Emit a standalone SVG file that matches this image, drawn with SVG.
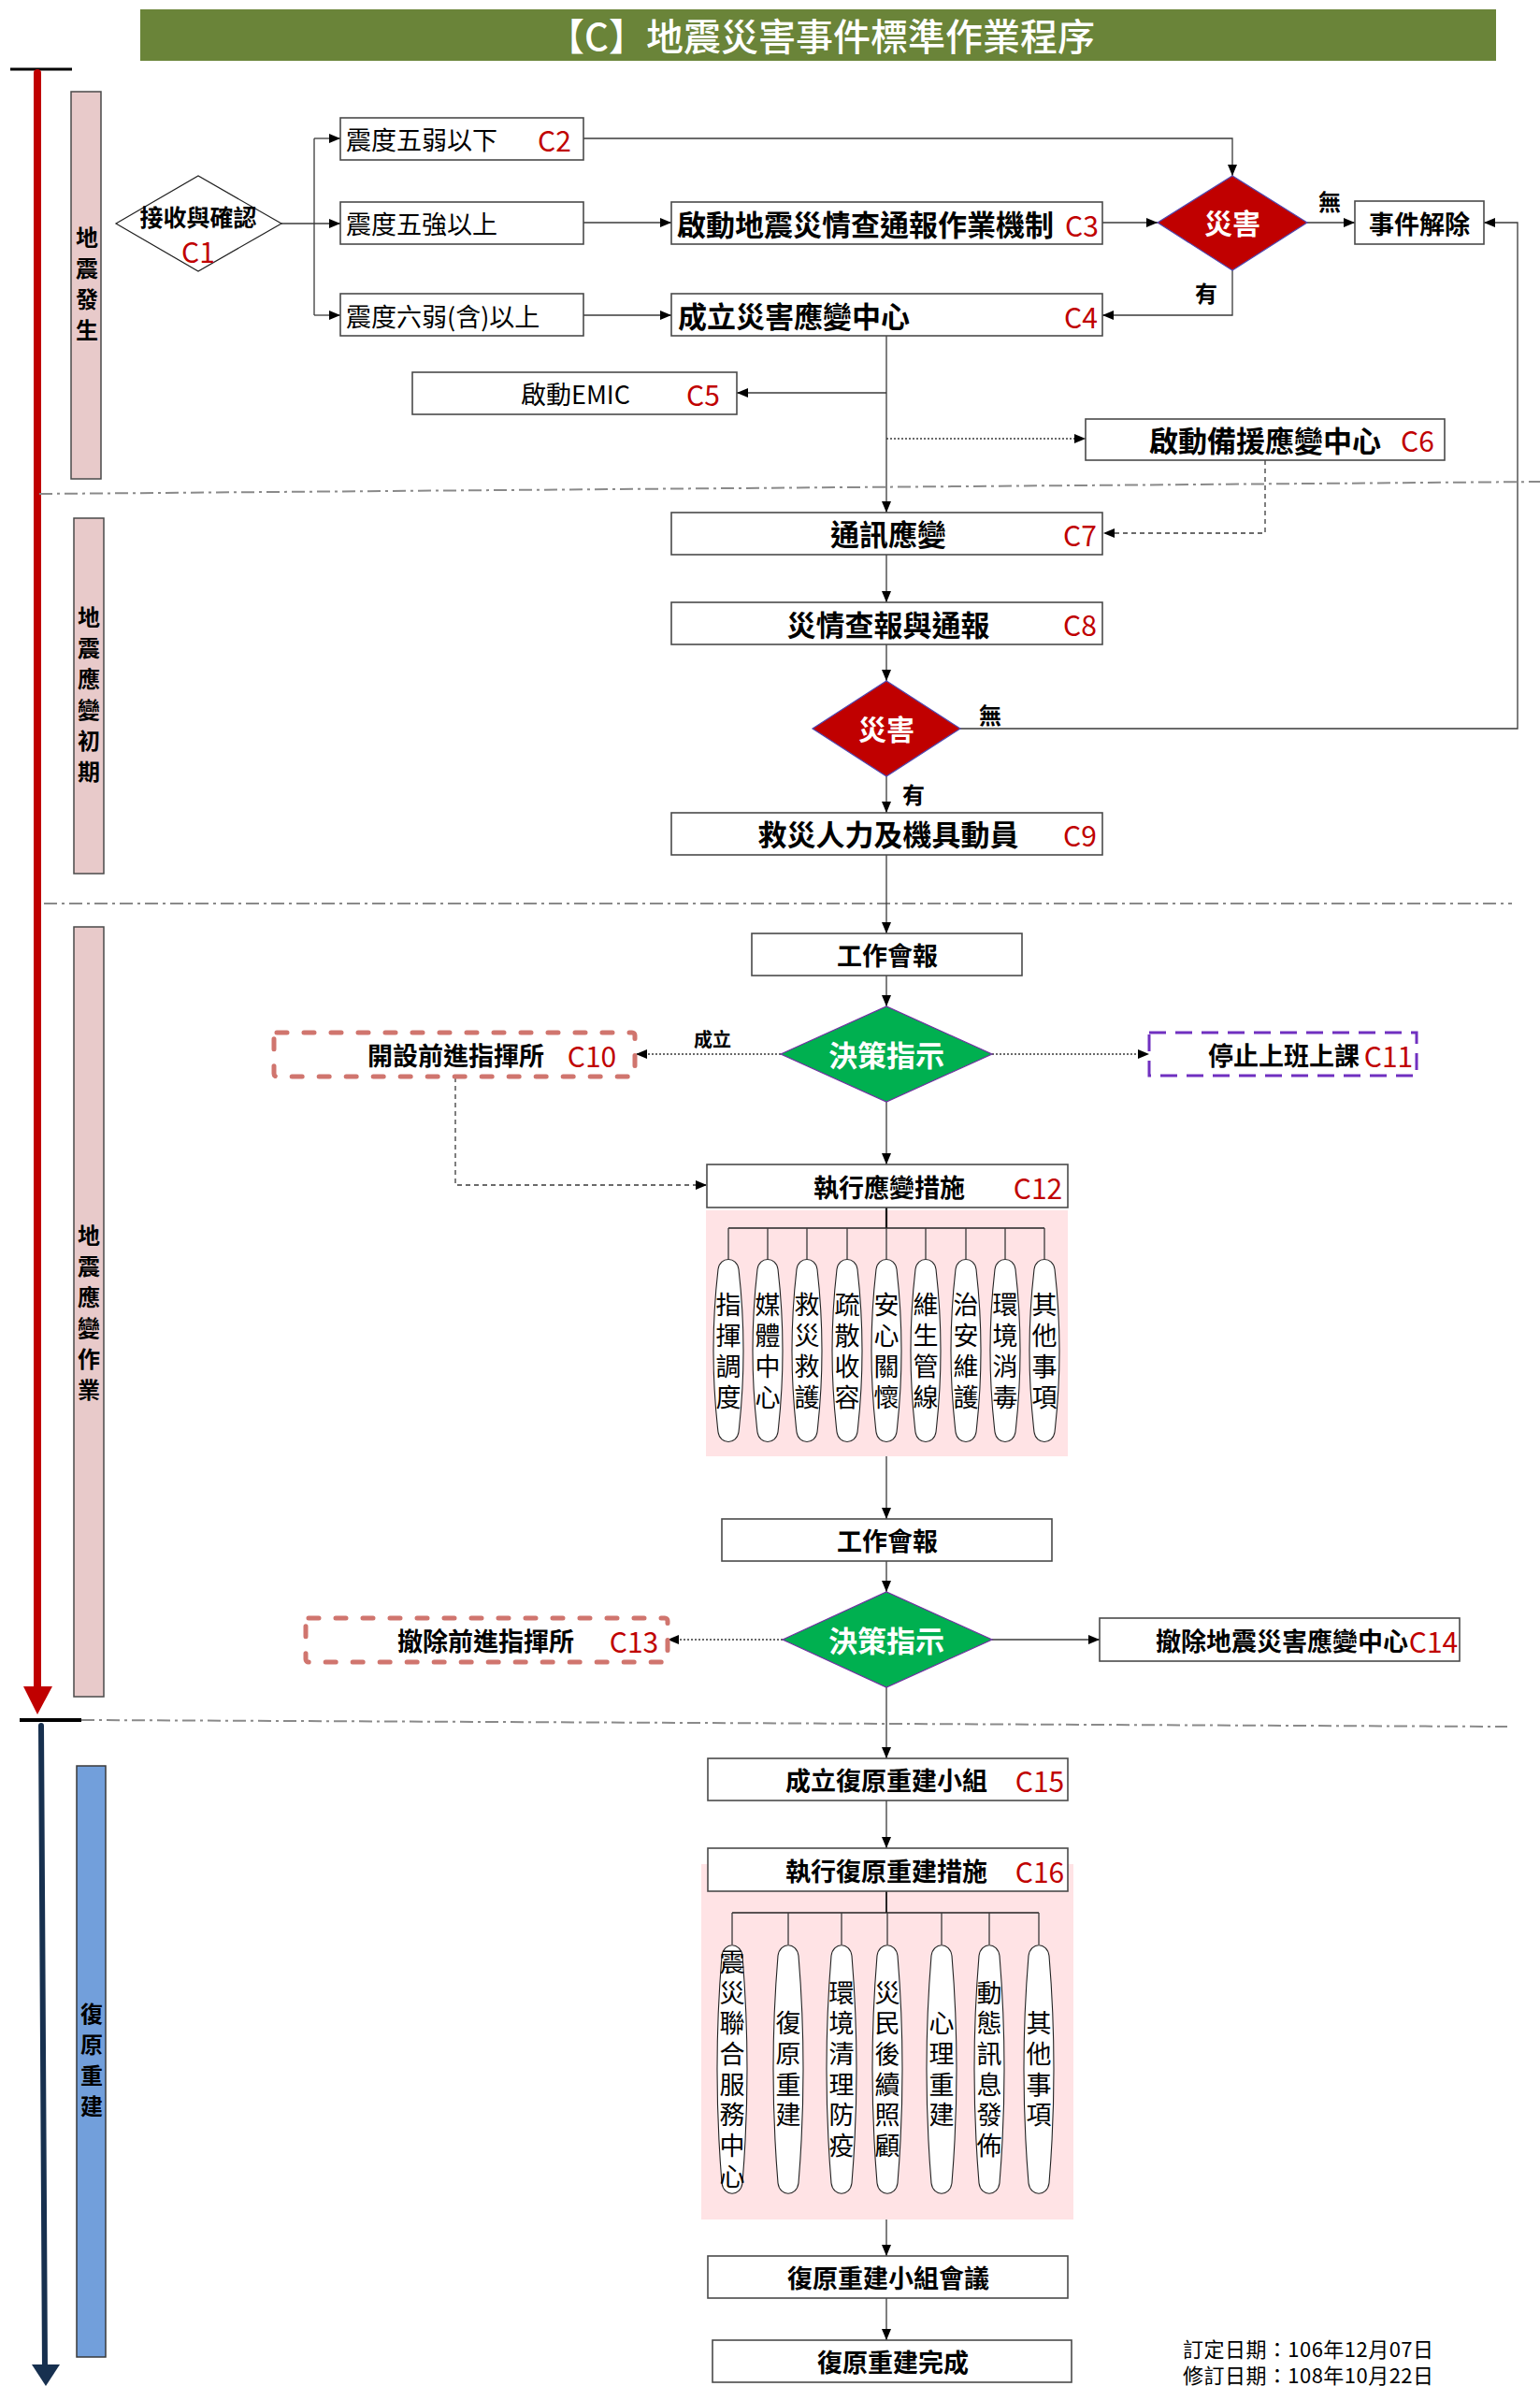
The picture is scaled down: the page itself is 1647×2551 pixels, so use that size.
<svg xmlns="http://www.w3.org/2000/svg" width="1647" height="2551" viewBox="0 0 1647 2551">
<defs>
<style>
text{font-family:"Noto Sans CJK TC","Noto Sans CJK SC",sans-serif;dominant-baseline:central;fill:#000}
.b{font-weight:bold}
.m{text-anchor:middle}
.s27{font-size:27px}
.s31{font-size:31px}
.red{fill:#C00000;font-size:30px}
.wh{fill:#fff}
.v{writing-mode:vertical-rl;text-orientation:upright;text-anchor:middle}
.v1{font-size:27px;letter-spacing:6px}
.v2{font-size:27px;letter-spacing:5.7px}
.vl{font-size:24px;letter-spacing:9px;font-weight:bold}
.box{fill:#fff;stroke:#4a4a4a;stroke-width:1.6}
.lane{fill:#E8CACA;stroke:#4a4a4a;stroke-width:1.5}
.cap{fill:#fff;stroke:#222;stroke-width:1.1}
.conn{fill:none;stroke:#3a3a3a;stroke-width:1.3}
.dot{stroke-dasharray:2 2}
.dsh{stroke-dasharray:5 4}
.sep{fill:none;stroke:#8a8a8a;stroke-width:2;stroke-dasharray:14 5 3 5}
.salm{fill:#fff;stroke:#D0756E;stroke-width:5;stroke-dasharray:11 18;stroke-linecap:round}
.purp{fill:#fff;stroke:#7030C0;stroke-width:3;stroke-dasharray:18 10}
</style>
<marker id="ar" markerWidth="12" markerHeight="10" refX="12" refY="5" orient="auto" markerUnits="userSpaceOnUse">
<path d="M0,0 L12,5 L0,10 z" fill="#000"/>
</marker>
</defs>

<!-- title -->
<g id="title">
<rect x="150" y="10" width="1450" height="55" fill="#6A8439"/>
<text x="878" y="37" class="m wh" font-size="40" font-weight="500">【C】地震災害事件標準作業程序</text>
</g>

<!-- timeline -->
<g id="timeline">
<line x1="11" y1="74" x2="77" y2="74" stroke="#000" stroke-width="3"/>
<line x1="40" y1="78" x2="40" y2="1805" stroke="#C00000" stroke-width="8" stroke-linecap="round"/>
<path d="M25,1803 L56,1803 L40,1833 z" fill="#C00000"/>
<line x1="21" y1="1839" x2="87" y2="1839" stroke="#000" stroke-width="4"/>
<line x1="44" y1="1845" x2="48" y2="2532" stroke="#17304F" stroke-width="6" stroke-linecap="round"/>
<path d="M34,2528 L64,2528 L49,2551 z" fill="#17304F"/>
</g>

<!-- lanes -->
<g id="lane1">
<rect x="76" y="98" width="32" height="414" class="lane"/>
<text x="93" y="308" class="v vl">地震發生</text>
</g>
<g id="lane2">
<rect x="79" y="554" width="32" height="380" class="lane"/>
<text x="95" y="747" class="v vl">地震應變初期</text>
</g>
<g id="lane3">
<rect x="79" y="991" width="32" height="823" class="lane"/>
<text x="95" y="1408" class="v vl">地震應變作業</text>
</g>
<g id="lane4">
<rect x="82" y="1888" width="31" height="632" fill="#729FDB" stroke="#3a3a3a" stroke-width="1.5"/>
<text x="98" y="2207" class="v vl">復原重建</text>
</g>

<!-- separators -->
<g id="separators">
<line x1="42" y1="528" x2="1647" y2="515" class="sep"/>
<line x1="47" y1="966" x2="1617" y2="966" class="sep"/>
<line x1="87" y1="1839" x2="1612" y2="1846" class="sep"/>
</g>

<!-- pink backgrounds -->
<rect x="755" y="1294" width="387" height="263" fill="#FFE3E5"/>
<rect x="750" y="1993" width="398" height="380" fill="#FFE3E5"/>

<!-- connectors -->
<g id="connectors">
<line x1="301" y1="239" x2="364" y2="239" class="conn" marker-end="url(#ar)"/>
<line x1="336" y1="148" x2="336" y2="337" class="conn"/>
<line x1="336" y1="148" x2="364" y2="148" class="conn" marker-end="url(#ar)"/>
<line x1="336" y1="337" x2="364" y2="337" class="conn" marker-end="url(#ar)"/>
<line x1="624" y1="238" x2="718" y2="238" class="conn" marker-end="url(#ar)"/>
<line x1="624" y1="337" x2="718" y2="337" class="conn" marker-end="url(#ar)"/>
<line x1="1179" y1="238" x2="1238" y2="238" class="conn" marker-end="url(#ar)"/>
<polyline points="624,148 1318,148 1318,188" class="conn" marker-end="url(#ar)"/>
<line x1="1398" y1="238" x2="1449" y2="238" class="conn" marker-end="url(#ar)"/>
<polyline points="1318,289 1318,337 1179,337" class="conn" marker-end="url(#ar)"/>
<polyline points="1027,779 1623,779 1623,238 1587,238" class="conn" marker-end="url(#ar)"/>
<line x1="948" y1="359" x2="948" y2="548" class="conn" marker-end="url(#ar)"/>
<line x1="948" y1="420" x2="788" y2="420" class="conn" marker-end="url(#ar)"/>
<line x1="948" y1="469" x2="1161" y2="469" class="conn dot" marker-end="url(#ar)"/>
<polyline points="1353,492 1353,570 1180,570" class="conn dsh" marker-end="url(#ar)"/>
<line x1="948" y1="593" x2="948" y2="644" class="conn" marker-end="url(#ar)"/>
<line x1="948" y1="689" x2="948" y2="728" class="conn" marker-end="url(#ar)"/>
<line x1="948" y1="830" x2="948" y2="869" class="conn" marker-end="url(#ar)"/>
<line x1="948" y1="914" x2="948" y2="998" class="conn" marker-end="url(#ar)"/>
<line x1="948" y1="1043" x2="948" y2="1076" class="conn" marker-end="url(#ar)"/>
<line x1="835" y1="1127" x2="680" y2="1127" class="conn dot" marker-end="url(#ar)"/>
<line x1="1061" y1="1127" x2="1229" y2="1127" class="conn dot" marker-end="url(#ar)"/>
<line x1="948" y1="1178" x2="948" y2="1245" class="conn" marker-end="url(#ar)"/>
<polyline points="487,1152 487,1267 756,1267" class="conn dsh" marker-end="url(#ar)"/>
<line x1="948" y1="1291" x2="948" y2="1313" stroke="#111" stroke-width="2.2"/>
<line x1="779" y1="1313" x2="1117" y2="1313" stroke="#222" stroke-width="1.6"/>
<path d="M779,1313V1346M821,1313V1346M863,1313V1346M906,1313V1346M948,1313V1346M990,1313V1346M1033,1313V1346M1075,1313V1346M1117,1313V1346" class="conn"/>
<line x1="948" y1="1557" x2="948" y2="1624" class="conn" marker-end="url(#ar)"/>
<line x1="948" y1="1669" x2="948" y2="1702" class="conn" marker-end="url(#ar)"/>
<line x1="837" y1="1753" x2="714" y2="1753" class="conn dot" stroke-width="2" marker-end="url(#ar)"/>
<line x1="1061" y1="1753" x2="1176" y2="1753" class="conn" marker-end="url(#ar)"/>
<line x1="948" y1="1804" x2="948" y2="1880" class="conn" marker-end="url(#ar)"/>
<line x1="948" y1="1925" x2="948" y2="1976" class="conn" marker-end="url(#ar)"/>
<line x1="948" y1="2022" x2="948" y2="2045" stroke="#111" stroke-width="1.8"/>
<line x1="783" y1="2045" x2="1111" y2="2045" stroke="#222" stroke-width="1.6"/>
<path d="M783,2045V2079M843,2045V2079M900,2045V2079M949,2045V2079M1007,2045V2079M1058,2045V2079M1111,2045V2079" class="conn"/>
<line x1="948" y1="2373" x2="948" y2="2412" class="conn" marker-end="url(#ar)"/>
<line x1="948" y1="2457" x2="948" y2="2502" class="conn" marker-end="url(#ar)"/>
</g>

<!-- nodes -->
<g id="C1">
<polygon points="124,239 212,188 301,239 212,290" fill="#fff" stroke="#222" stroke-width="1.2"/>
<text x="212" y="231" class="m b" font-size="25">接收與確認</text>
<text x="212" y="268" class="m red" font-size="25">C1</text>
</g>
<g id="C2">
<rect x="364" y="126" width="260" height="45" class="box"/>
<text x="370" y="148" class="s27">震度五弱以下</text>
<text x="593" y="149" class="m red">C2</text>
</g>
<g id="n5strong">
<rect x="364" y="216" width="260" height="45" class="box"/>
<text x="370" y="238" class="s27">震度五強以上</text>
</g>
<g id="n6weak">
<rect x="364" y="314" width="260" height="45" class="box"/>
<text x="370" y="337" class="s27">震度六弱(含)以上</text>
</g>
<g id="C3">
<rect x="718" y="216" width="461" height="45" class="box"/>
<text x="724" y="238" class="b s31">啟動地震災情查通報作業機制</text>
<text x="1157" y="240" class="m red">C3</text>
</g>
<g id="C4">
<rect x="718" y="314" width="461" height="45" class="box"/>
<text x="725" y="336" class="b s31">成立災害應變中心</text>
<text x="1156" y="338" class="m red">C4</text>
</g>
<g id="disaster1">
<polygon points="1238,238 1318,188 1398,238 1318,289" fill="#C00000" stroke="#5048B0" stroke-width="1.2"/>
<text x="1318" y="237" class="m wh b" font-size="30">災害</text>
<text x="1422" y="214" class="m b" font-size="24">無</text>
<text x="1290" y="312" class="m b" font-size="24">有</text>
</g>
<g id="release">
<rect x="1449" y="215" width="138" height="46" class="box"/>
<text x="1518" y="238" class="m b s27">事件解除</text>
</g>
<g id="C5">
<rect x="441" y="398" width="347" height="45" class="box"/>
<text x="557" y="420" class="s27">啟動EMIC</text>
<text x="752" y="421" class="m red">C5</text>
</g>
<g id="C6">
<rect x="1161" y="448" width="384" height="44" class="box"/>
<text x="1229" y="469" class="b s31">啟動備援應變中心</text>
<text x="1516" y="470" class="m red">C6</text>
</g>
<g id="C7">
<rect x="718" y="548" width="461" height="45" class="box"/>
<text x="950" y="569" class="m b s31">通訊應變</text>
<text x="1155" y="571" class="m red">C7</text>
</g>
<g id="C8">
<rect x="718" y="644" width="461" height="45" class="box"/>
<text x="950" y="666" class="m b s31">災情查報與通報</text>
<text x="1155" y="667" class="m red">C8</text>
</g>
<g id="disaster2">
<polygon points="869,779 948,728 1027,779 948,830" fill="#C00000" stroke="#5048B0" stroke-width="1.2"/>
<text x="948" y="778" class="m wh b" font-size="30">災害</text>
<text x="1059" y="763" class="m b" font-size="24">無</text>
<text x="977" y="848" class="m b" font-size="24">有</text>
</g>
<g id="C9">
<rect x="718" y="869" width="461" height="45" class="box"/>
<text x="950" y="890" class="m b s31">救災人力及機具動員</text>
<text x="1155" y="892" class="m red">C9</text>
</g>
<g id="meeting1">
<rect x="804" y="998" width="289" height="45" class="box"/>
<text x="949" y="1020" class="m b s27">工作會報</text>
</g>
<g id="decision1">
<polygon points="835,1127 948,1076 1061,1127 948,1178" fill="#00B050" stroke="#7030A0" stroke-width="1.2"/>
<text x="948" y="1126" class="m wh b" font-size="31">決策指示</text>
<text x="762" y="1110" class="m b" font-size="20">成立</text>
</g>
<g id="C10">
<rect x="293" y="1104" width="386" height="47" rx="3" class="salm"/>
<text x="393" y="1127" class="b s27">開設前進指揮所</text>
<text x="633" y="1128" class="m red">C10</text>
</g>
<g id="C11">
<rect x="1229" y="1104" width="286" height="46" class="purp"/>
<text x="1292" y="1127" class="b s27">停止上班上課</text>
<text x="1485" y="1128" class="m red">C11</text>
</g>
<g id="C12">
<rect x="756" y="1245" width="386" height="46" class="box"/>
<text x="870" y="1268" class="b s27">執行應變措施</text>
<text x="1110" y="1269" class="m red">C12</text>
</g>
<g id="measures1">
<path class="cap" d="M768,1357 C770,1343 788,1343 790,1357 Q800,1444 790,1531 C788,1545 770,1545 768,1531 Q758,1444 768,1357 Z"/>
<path class="cap" d="M810,1357 C812,1343 830,1343 832,1357 Q842,1444 832,1531 C830,1545 812,1545 810,1531 Q800,1444 810,1357 Z"/>
<path class="cap" d="M852,1357 C854,1343 872,1343 874,1357 Q884,1444 874,1531 C872,1545 854,1545 852,1531 Q842,1444 852,1357 Z"/>
<path class="cap" d="M895,1357 C897,1343 915,1343 917,1357 Q927,1444 917,1531 C915,1545 897,1545 895,1531 Q885,1444 895,1357 Z"/>
<path class="cap" d="M937,1357 C939,1343 957,1343 959,1357 Q969,1444 959,1531 C957,1545 939,1545 937,1531 Q927,1444 937,1357 Z"/>
<path class="cap" d="M979,1357 C981,1343 999,1343 1001,1357 Q1011,1444 1001,1531 C999,1545 981,1545 979,1531 Q969,1444 979,1357 Z"/>
<path class="cap" d="M1022,1357 C1024,1343 1042,1343 1044,1357 Q1054,1444 1044,1531 C1042,1545 1024,1545 1022,1531 Q1012,1444 1022,1357 Z"/>
<path class="cap" d="M1064,1357 C1066,1343 1084,1343 1086,1357 Q1096,1444 1086,1531 C1084,1545 1066,1545 1064,1531 Q1054,1444 1064,1357 Z"/>
<path class="cap" d="M1106,1357 C1108,1343 1126,1343 1128,1357 Q1138,1444 1128,1531 C1126,1545 1108,1545 1106,1531 Q1096,1444 1106,1357 Z"/>
<text x="779" y="1447" class="v v1">指揮調度</text>
<text x="821" y="1447" class="v v1">媒體中心</text>
<text x="863" y="1447" class="v v1">救災救護</text>
<text x="906" y="1447" class="v v1">疏散收容</text>
<text x="948" y="1447" class="v v1">安心關懷</text>
<text x="990" y="1447" class="v v1">維生管線</text>
<text x="1033" y="1447" class="v v1">治安維護</text>
<text x="1075" y="1447" class="v v1">環境消毒</text>
<text x="1117" y="1447" class="v v1">其他事項</text>
</g>
<g id="meeting2">
<rect x="772" y="1624" width="353" height="45" class="box"/>
<text x="949" y="1646" class="m b s27">工作會報</text>
</g>
<g id="decision2">
<polygon points="837,1753 948,1702 1061,1753 948,1804" fill="#00B050" stroke="#7030A0" stroke-width="1.2"/>
<text x="948" y="1752" class="m wh b" font-size="31">決策指示</text>
</g>
<g id="C13">
<rect x="327" y="1730" width="387" height="47" rx="3" class="salm"/>
<text x="425" y="1753" class="b s27">撤除前進指揮所</text>
<text x="678" y="1754" class="m red">C13</text>
</g>
<g id="C14">
<rect x="1176" y="1730" width="385" height="46" class="box"/>
<text x="1236" y="1753" class="b s27">撤除地震災害應變中心</text>
<text x="1533" y="1754" class="m red">C14</text>
</g>
<g id="C15">
<rect x="757" y="1880" width="385" height="45" class="box"/>
<text x="840" y="1902" class="b s27">成立復原重建小組</text>
<text x="1112" y="1903" class="m red">C15</text>
</g>
<g id="C16">
<rect x="757" y="1976" width="385" height="46" class="box"/>
<text x="840" y="1999" class="b s27">執行復原重建措施</text>
<text x="1112" y="2000" class="m red">C16</text>
</g>
<g id="measures2">
<path class="cap" d="M772,2091 C774,2076 792,2076 794,2091 Q804,2212 794,2334 C792,2349 774,2349 772,2334 Q762,2212 772,2091 Z"/>
<path class="cap" d="M832,2091 C834,2076 852,2076 854,2091 Q864,2212 854,2334 C852,2349 834,2349 832,2334 Q822,2212 832,2091 Z"/>
<path class="cap" d="M889,2091 C891,2076 909,2076 911,2091 Q921,2212 911,2334 C909,2349 891,2349 889,2334 Q879,2212 889,2091 Z"/>
<path class="cap" d="M938,2091 C940,2076 958,2076 960,2091 Q970,2212 960,2334 C958,2349 940,2349 938,2334 Q928,2212 938,2091 Z"/>
<path class="cap" d="M996,2091 C998,2076 1016,2076 1018,2091 Q1028,2212 1018,2334 C1016,2349 998,2349 996,2334 Q986,2212 996,2091 Z"/>
<path class="cap" d="M1047,2091 C1049,2076 1067,2076 1069,2091 Q1079,2212 1069,2334 C1067,2349 1049,2349 1047,2334 Q1037,2212 1047,2091 Z"/>
<path class="cap" d="M1100,2091 C1102,2076 1120,2076 1122,2091 Q1132,2212 1122,2334 C1120,2349 1102,2349 1100,2334 Q1090,2212 1100,2091 Z"/>
<text x="783" y="2215" class="v v2">震災聯合服務中心</text>
<text x="843" y="2215" class="v v2">復原重建</text>
<text x="900" y="2215" class="v v2">環境清理防疫</text>
<text x="949" y="2215" class="v v2">災民後續照顧</text>
<text x="1007" y="2215" class="v v2">心理重建</text>
<text x="1058" y="2215" class="v v2">動態訊息發佈</text>
<text x="1111" y="2215" class="v v2">其他事項</text>
</g>
<g id="groupMeeting">
<rect x="757" y="2412" width="385" height="45" class="box"/>
<text x="950" y="2434" class="m b s27">復原重建小組會議</text>
</g>
<g id="done">
<rect x="762" y="2502" width="384" height="45" class="box"/>
<text x="955" y="2524" class="m b s27">復原重建完成</text>
</g>
<g id="dates">
<text x="1265" y="2510" font-size="22" textLength="268" lengthAdjust="spacing">訂定日期：106年12月07日</text>
<text x="1265" y="2538" font-size="22" textLength="268" lengthAdjust="spacing">修訂日期：108年10月22日</text>
</g>
</svg>
